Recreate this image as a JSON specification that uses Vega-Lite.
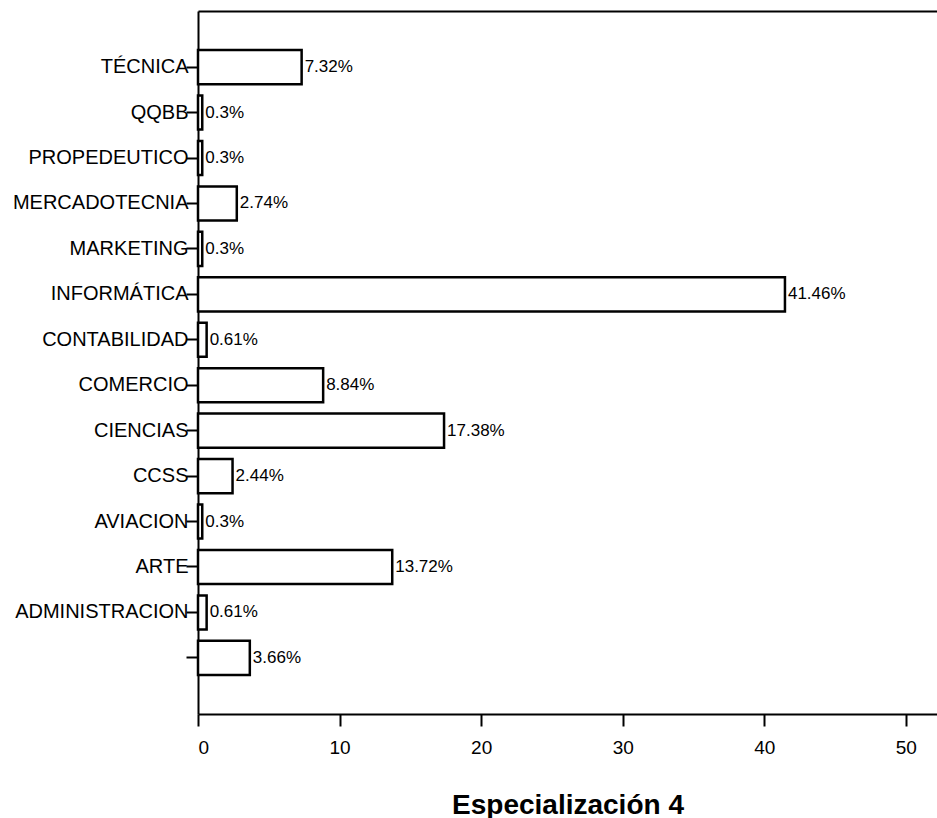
{
  "$schema": "https://vega.github.io/schema/vega-lite/v6.json",
  "width": 739,
  "height": 703,
  "autosize": "none",
  "padding": {"left": 198, "top": 11, "right": 0, "bottom": 104},
  "background": "white",
  "config": {
    "view": {"stroke": null},
    "font": "Liberation Sans",
    "axis": {"grid": false, "domainColor": "black", "tickColor": "black", "labelColor": "black", "titleColor": "black", "domainWidth": 2, "tickWidth": 2, "labelFont": "Liberation Sans", "titleFont": "Liberation Sans"}
  },
  "data": {
    "values": [
      {"cat": "TÉCNICA", "pct": 7.32, "label": "7.32%"},
      {"cat": "QQBB", "pct": 0.3, "label": "0.3%"},
      {"cat": "PROPEDEUTICO", "pct": 0.3, "label": "0.3%"},
      {"cat": "MERCADOTECNIA", "pct": 2.74, "label": "2.74%"},
      {"cat": "MARKETING", "pct": 0.3, "label": "0.3%"},
      {"cat": "INFORMÁTICA", "pct": 41.46, "label": "41.46%"},
      {"cat": "CONTABILIDAD", "pct": 0.61, "label": "0.61%"},
      {"cat": "COMERCIO", "pct": 8.84, "label": "8.84%"},
      {"cat": "CIENCIAS", "pct": 17.38, "label": "17.38%"},
      {"cat": "CCSS", "pct": 2.44, "label": "2.44%"},
      {"cat": "AVIACION", "pct": 0.3, "label": "0.3%"},
      {"cat": "ARTE", "pct": 13.72, "label": "13.72%"},
      {"cat": "ADMINISTRACION", "pct": 0.61, "label": "0.61%"},
      {"cat": "", "pct": 3.66, "label": "3.66%"}
    ]
  },
  "encoding": {
    "y": {
      "field": "cat",
      "type": "nominal",
      "sort": ["TÉCNICA", "QQBB", "PROPEDEUTICO", "MERCADOTECNIA", "MARKETING", "INFORMÁTICA", "CONTABILIDAD", "COMERCIO", "CIENCIAS", "CCSS", "AVIACION", "ARTE", "ADMINISTRACION", ""],
      "scale": {"paddingInner": 0.25, "paddingOuter": 0.86},
      "axis": {"title": null, "tickSize": 12, "labelPadding": -2, "labelFontSize": 20, "labelLimit": 300}
    },
    "x": {
      "field": "pct",
      "type": "quantitative",
      "scale": {"domain": [0, 52.2], "nice": false, "zero": true}
    }
  },
  "layer": [
    {
      "mark": {"type": "bar", "fill": "white", "stroke": "black", "strokeWidth": 2.5},
      "encoding": {
        "x": {
          "field": "pct",
          "type": "quantitative",
          "scale": {"domain": [0, 52.2], "nice": false},
          "axis": {"values": [0, 10, 20, 30, 40, 50], "tickSize": 12, "labelPadding": 12, "labelFontSize": 19, "title": "Especialización 4", "titleFontSize": 28, "titleFontWeight": "bold", "titlePadding": 34}
        }
      }
    },
    {
      "mark": {"type": "text", "align": "left", "baseline": "middle", "dx": 3, "fontSize": 17, "color": "black"},
      "encoding": {
        "text": {"field": "label"},
        "x": {
          "field": "pct",
          "type": "quantitative",
          "scale": {"domain": [0, 52.2], "nice": false},
          "axis": {"orient": "top", "labels": false, "ticks": false, "title": null, "domain": true}
        }
      }
    }
  ],
  "resolve": {"axis": {"x": "independent"}}
}
